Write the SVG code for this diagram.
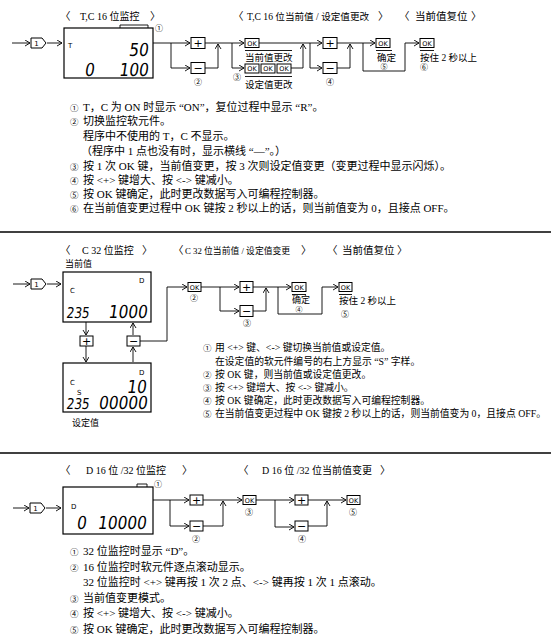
<svg xmlns="http://www.w3.org/2000/svg" width="551" height="641" viewBox="0 0 551 641">
<defs>
<style>
.t{font-family:'Liberation Serif','Noto Sans CJK SC',serif;font-size:10.5px;fill:#000}
.n1{font-family:'Liberation Serif','Noto Sans CJK SC',serif;font-size:11px;fill:#000}
.n2{font-family:'Liberation Serif','Noto Sans CJK SC',serif;font-size:9.8px;fill:#000}
.sm{font-family:'Liberation Serif','Noto Sans CJK SC',serif;font-size:9px;fill:#000}
.cn{font-family:'Noto Sans CJK SC',sans-serif;font-size:8px;fill:#000;text-anchor:middle}
.cnn{font-family:'Noto Sans CJK SC',sans-serif;font-size:8.5px;fill:#000}
.ok{font-family:'DejaVu Sans',sans-serif;font-size:6.5px;fill:#000;text-anchor:middle}
.key{font-family:'DejaVu Sans',sans-serif;font-size:11px;fill:#000;text-anchor:middle}
.lbl{font-family:'DejaVu Sans',sans-serif;font-size:7px;fill:#000}
.lcd{font-family:'DejaVu Sans',sans-serif;font-size:18px;fill:#000;text-anchor:end}
.lcdl{font-family:'DejaVu Sans',sans-serif;font-size:15px;fill:#000}
.box{fill:#fff;stroke:#000;stroke-width:1}
.lcdbox{fill:#fff;stroke:#000;stroke-width:1.2}
.ln{fill:none;stroke:#000;stroke-width:0.9}
.ar{fill:none;stroke:#000;stroke-width:0.9;marker-end:url(#ah)}
.div{stroke:#000;stroke-width:1.5}
</style>
<marker id="ah" markerWidth="7" markerHeight="7" refX="5" refY="3" orient="auto" markerUnits="userSpaceOnUse">
<path d="M0,0 L5,3 L0,6" fill="none" stroke="#000" stroke-width="0.9"/>
</marker>
</defs>
<rect width="551" height="641" fill="#fff"/>

<!-- ================= SECTION 1 ================= -->
<g id="titles1">
<text class="t" x="60" y="20">〈</text><text class="t" x="80" y="20" style="font-size:10px">T,C 16 位监控</text><text class="t" x="150" y="20">〉</text>
<text class="t" x="233" y="20">〈</text><text class="t" x="247" y="20" style="font-size:9.6px">T,C 16 位当前值 / 设定值更改</text><text class="t" x="378" y="20">〉</text>
<text class="t" x="399" y="20">〈</text><text class="t" x="415" y="20">当前值复位</text><text class="t" x="471" y="20">〉</text>
</g>

<g id="connectors1">
<path class="ar" d="M12,43 H30"/>
<path class="ar" d="M47,43 H62"/>
<path class="ar" d="M153,43 H190"/>
<path class="ar" d="M171,43 V68 H190"/>
<path class="ar" d="M205,43 H244"/>
<path class="ar" d="M205,68 H218 V44"/>
<path class="ar" d="M232,43 V68 H244"/>
<path class="ar" d="M259,43 H322"/>
<path class="ar" d="M291,68 H303 V44"/>
<path class="ar" d="M310,43 V68 H322"/>
<path class="ar" d="M337,43 H375"/>
<path class="ar" d="M337,68 H350 V44"/>
<path class="ar" d="M363,43 V71 H405 V43 H419"/>
</g>

<g id="n1-start">
<path class="box" d="M31,38 H42 L46,43 L42,48 H31 Z"/>
<text class="lbl" x="36.5" y="45.5" text-anchor="middle">1</text>
</g>

<g id="n1-lcd">
<rect class="lcdbox" x="64" y="28" width="89" height="50"/>
<path class="ln" d="M120,28 V25 H148 V28"/>
<text class="cn" x="159" y="31">①</text>
<text class="lbl" x="68" y="48">T</text>
<text class="lcd" transform="translate(148,56) skewX(-8) scale(0.85,1)">50</text>
<text class="lcd" transform="translate(94,76) skewX(-8) scale(0.85,1)">0</text>
<text class="lcd" transform="translate(148,76) skewX(-8) scale(0.85,1)">100</text>
</g>

<g id="n1-plus1"><rect class="box" x="191" y="37.5" width="14" height="11"/><text class="key" x="198" y="47">+</text></g>
<g id="n1-minus1"><rect class="box" x="191" y="62.5" width="14" height="11"/><text class="key" x="198" y="72">−</text><text class="cn" x="198" y="85">②</text></g>

<g id="n1-ok1">
<rect class="box" x="245" y="38.5" width="14" height="9"/><text class="ok" x="252" y="45.5">OK</text>
<path class="ln" d="M245,50.5 H292"/>
<text class="sm" x="245" y="61" style="font-size:9.5px">当前值更改</text>
</g>
<g id="n1-ok3">
<rect class="box" x="245" y="64" width="14" height="9"/><text class="ok" x="252" y="71">OK</text>
<rect class="box" x="261" y="64" width="14" height="9"/><text class="ok" x="268" y="71">OK</text>
<rect class="box" x="277" y="64" width="14" height="9"/><text class="ok" x="284" y="71">OK</text>
<path class="ln" d="M245,76.5 H292"/>
<text class="sm" x="245" y="88" style="font-size:9.5px">设定值更改</text>
<text class="cn" x="237" y="80">③</text>
</g>

<g id="n1-plus2"><rect class="box" x="323" y="37.5" width="14" height="11"/><text class="key" x="330" y="47">+</text></g>
<g id="n1-minus2"><rect class="box" x="323" y="62.5" width="14" height="11"/><text class="key" x="330" y="72">−</text><text class="cn" x="330" y="85">④</text></g>

<g id="n1-confirm">
<rect class="box" x="376" y="38.5" width="14" height="9"/><text class="ok" x="383" y="45.5">OK</text>
<path class="ln" d="M376,50.5 H392"/>
<text class="sm" x="377" y="60.5" style="font-size:9.5px">确定</text>
<text class="cn" x="384" y="69" style="font-size:7px">⑤</text>
</g>
<g id="n1-reset">
<rect class="box" x="420" y="38.5" width="14" height="9"/><text class="ok" x="427" y="45.5">OK</text>
<path class="ln" d="M420,50.5 H434"/>
<text class="sm" x="420" y="60.5" style="font-size:9.5px">按住 2 秒以上</text>
<text class="cn" x="424" y="70">⑥</text>
</g>

<g id="notes1">
<text class="cnn" x="70" y="111">①</text><text class="n1" x="83" y="111">T，C 为 ON 时显示 “ON”，复位过程中显示 “R”。</text>
<text class="cnn" x="70" y="125">②</text><text class="n1" x="83" y="125">切换监控软元件。</text>
<text class="n1" x="83" y="140">程序中不使用的 T，C 不显示。</text>
<text class="n1" x="81" y="155">（程序中 1 点也没有时，显示横线 “—”。）</text>
<text class="cnn" x="70" y="170">③</text><text class="n1" x="83" y="170">按 1 次 OK 键，当前值变更，按 3 次则设定值变更（变更过程中显示闪烁）。</text>
<text class="cnn" x="70" y="184">④</text><text class="n1" x="83" y="184">按 &lt;+&gt; 键增大、按 &lt;-&gt; 键减小。</text>
<text class="cnn" x="70" y="198">⑤</text><text class="n1" x="83" y="198">按 OK 键确定，此时更改数据写入可编程控制器。</text>
<text class="cnn" x="70" y="212">⑥</text><text class="n1" x="83" y="212">在当前值变更过程中 OK 键按 2 秒以上的话，则当前值变为 0，且接点 OFF。</text>
</g>

<line class="div" x1="0" y1="232" x2="551" y2="232"/>

<!-- ================= SECTION 2 ================= -->
<g id="titles2">
<text class="t" x="60" y="254">〈</text><text class="t" x="82" y="254" style="font-size:10px">C 32 位监控</text><text class="t" x="142" y="254">〉</text>
<text class="t" x="173" y="254">〈</text><text class="t" x="185" y="254" style="font-size:8.8px">C 32 位当前值 / 设定值变更</text><text class="t" x="301" y="254">〉</text>
<text class="t" x="327" y="254">〈</text><text class="t" x="342" y="254">当前值复位</text><text class="t" x="397" y="254">〉</text>
<text class="sm" x="65" y="267">当前值</text>
</g>

<g id="connectors2">
<path class="ar" d="M13,284 H30"/>
<path class="ar" d="M47,284 H61"/>
<path class="ar" d="M86,322 V335"/>
<path class="ar" d="M86,346 V362"/>
<path class="ar" d="M133,335 V323"/>
<path class="ar" d="M133,362 V347"/>
<path class="ar" d="M140,341 H167 V287 H187"/>
<path class="ar" d="M201,287 H239"/>
<path class="ar" d="M220,287 V311 H239"/>
<path class="ar" d="M253,311 H266 V288"/>
<path class="ar" d="M253,287 H291"/>
<path class="ar" d="M278,287 V314 H322 V287 H338"/>
</g>

<g id="n2-start">
<path class="box" d="M31,279 H42 L46,284 L42,289 H31 Z"/>
<text class="lbl" x="36.5" y="286.5" text-anchor="middle">1</text>
</g>

<g id="n2-lcd-current">
<rect class="lcdbox" x="63" y="272" width="88" height="50"/>
<text class="lbl" x="139" y="283">D</text>
<text class="lbl" x="70" y="293">C</text>
<text class="lcdl" transform="translate(66,318) skewX(-8) scale(0.8,1)">235</text>
<text class="lcd" transform="translate(147,318) skewX(-8) scale(0.85,1)">1000</text>
</g>

<g id="n2-plus"><rect class="box" x="80" y="336" width="13" height="10"/><text class="key" x="86.5" y="345">+</text></g>
<g id="n2-minus"><rect class="box" x="127" y="336" width="13" height="10"/><text class="key" x="133.5" y="345">−</text></g>

<g id="n2-lcd-set">
<rect class="lcdbox" x="63" y="363" width="88" height="49"/>
<text class="lbl" x="139" y="375">D</text>
<text class="lbl" x="70" y="385">C</text>
<text class="lbl" x="77" y="395">S</text>
<text class="lcd" transform="translate(146,393) skewX(-8) scale(0.85,1)">10</text>
<text class="lcdl" transform="translate(66,409) skewX(-8) scale(0.8,1)">235</text>
<text class="lcd" transform="translate(147,409) skewX(-8) scale(0.85,1)">00000</text>
<text class="sm" x="72" y="426">设定值</text>
</g>

<g id="n2-ok">
<rect class="box" x="188" y="282.5" width="13" height="9"/><text class="ok" x="194.5" y="289.5">OK</text>
<text class="cn" x="194" y="301">②</text>
</g>
<g id="n2-plus2"><rect class="box" x="240" y="281.5" width="13" height="11"/><text class="key" x="246.5" y="291">+</text></g>
<g id="n2-minus2"><rect class="box" x="240" y="305.5" width="13" height="11"/><text class="key" x="246.5" y="315">−</text><text class="cn" x="247" y="326">③</text></g>
<g id="n2-confirm">
<rect class="box" x="292" y="282.5" width="14" height="9"/><text class="ok" x="299" y="289.5">OK</text>
<path class="ln" d="M292,294.5 H306"/>
<text class="sm" x="292" y="302.5" style="font-size:9px">确定</text>
<text class="cn" x="299" y="312" style="font-size:7px">④</text>
</g>
<g id="n2-reset">
<rect class="box" x="339" y="282.5" width="13" height="9"/><text class="ok" x="345.5" y="289.5">OK</text>
<path class="ln" d="M339,294.5 H352"/>
<text class="sm" x="339" y="304" style="font-size:9.5px">按住 2 秒以上</text>
<text class="cn" x="345" y="317">⑤</text>
</g>

<g id="notes2">
<text class="cnn" x="203" y="351">①</text><text class="n2" x="215" y="351">用 &lt;+&gt; 键、&lt;-&gt; 键切换当前值或设定值。</text>
<text class="n2" x="215" y="365">在设定值的软元件编号的右上方显示 “S” 字样。</text>
<text class="cnn" x="203" y="378">②</text><text class="n2" x="215" y="378">按 OK 键，则当前值或设定值更改。</text>
<text class="cnn" x="203" y="391">③</text><text class="n2" x="215" y="391">按 &lt;+&gt; 键增大、按 &lt;-&gt; 键减小。</text>
<text class="cnn" x="203" y="404">④</text><text class="n2" x="215" y="404">按 OK 键确定，此时更改数据写入可编程控制器。</text>
<text class="cnn" x="203" y="417">⑤</text><text class="n2" x="215" y="417">在当前值变更过程中 OK 键按 2 秒以上的话，则当前值变为 0，且接点 OFF。</text>
</g>

<line class="div" x1="0" y1="453" x2="551" y2="453"/>

<!-- ================= SECTION 3 ================= -->
<g id="titles3">
<text class="t" x="60" y="474">〈</text><text class="t" x="86" y="474" style="font-size:10px">D 16 位 /32 位监控</text><text class="t" x="182" y="474">〉</text>
<text class="t" x="238" y="474">〈</text><text class="t" x="262" y="474" style="font-size:10px">D 16 位 /32 位当前值变更</text><text class="t" x="380" y="474">〉</text>
</g>

<g id="connectors3">
<path class="ar" d="M13,508 H29"/>
<path class="ar" d="M46,508 H61"/>
<path class="ar" d="M153,500 H189"/>
<path class="ar" d="M170,500 V526 H189"/>
<path class="ar" d="M203,500 H242"/>
<path class="ar" d="M203,526 H223 V501"/>
<path class="ar" d="M256,500 H294"/>
<path class="ar" d="M275,500 V527 H294"/>
<path class="ar" d="M308,500 H346"/>
<path class="ar" d="M308,526 H327 V501"/>
</g>

<g id="n3-start">
<path class="box" d="M30,503 H41 L45,508 L41,513 H30 Z"/>
<text class="lbl" x="35.5" y="510.5" text-anchor="middle">1</text>
</g>

<g id="n3-lcd">
<rect class="lcdbox" x="63" y="487" width="90" height="47"/>
<path class="ln" d="M137,487 V484 H147 V487"/>
<text class="cn" x="158" y="487">①</text>
<text class="lbl" x="71" y="509">D</text>
<text class="lcd" transform="translate(86,529) skewX(-8) scale(0.85,1)">0</text>
<text class="lcd" transform="translate(146,529) skewX(-8) scale(0.85,1)">10000</text>
</g>

<g id="n3-plus1"><rect class="box" x="190" y="495" width="13" height="10"/><text class="key" x="196.5" y="504">+</text></g>
<g id="n3-minus1"><rect class="box" x="190" y="521" width="13" height="10"/><text class="key" x="196.5" y="530">−</text><text class="cn" x="196" y="542">②</text></g>
<g id="n3-ok1"><rect class="box" x="243" y="495.5" width="13" height="9"/><text class="ok" x="249.5" y="502.5">OK</text><text class="cn" x="249" y="515">③</text></g>
<g id="n3-plus2"><rect class="box" x="295" y="495" width="13" height="10"/><text class="key" x="301.5" y="504">+</text></g>
<g id="n3-minus2"><rect class="box" x="295" y="521" width="13" height="10"/><text class="key" x="301.5" y="530">−</text><text class="cn" x="302" y="542">④</text></g>
<g id="n3-ok2"><rect class="box" x="347" y="495.5" width="13" height="9"/><text class="ok" x="353.5" y="502.5">OK</text><text class="cn" x="353" y="515">⑤</text></g>

<g id="notes3">
<text class="cnn" x="70" y="555">①</text><text class="n1" x="83" y="555">32 位监控时显示 “D”。</text>
<text class="cnn" x="70" y="571">②</text><text class="n1" x="83" y="571">16 位监控时软元件逐点滚动显示。</text>
<text class="n1" x="83" y="586">32 位监控时 &lt;+&gt; 键再按 1 次 2 点、&lt;-&gt; 键再按 1 次 1 点滚动。</text>
<text class="cnn" x="70" y="602">③</text><text class="n1" x="83" y="602">当前值变更模式。</text>
<text class="cnn" x="70" y="617">④</text><text class="n1" x="83" y="617">按 &lt;+&gt; 键增大、按 &lt;-&gt; 键减小。</text>
<text class="cnn" x="70" y="633">⑤</text><text class="n1" x="83" y="633">按 OK 键确定，此时更改数据写入可编程控制器。</text>
</g>
</svg>
